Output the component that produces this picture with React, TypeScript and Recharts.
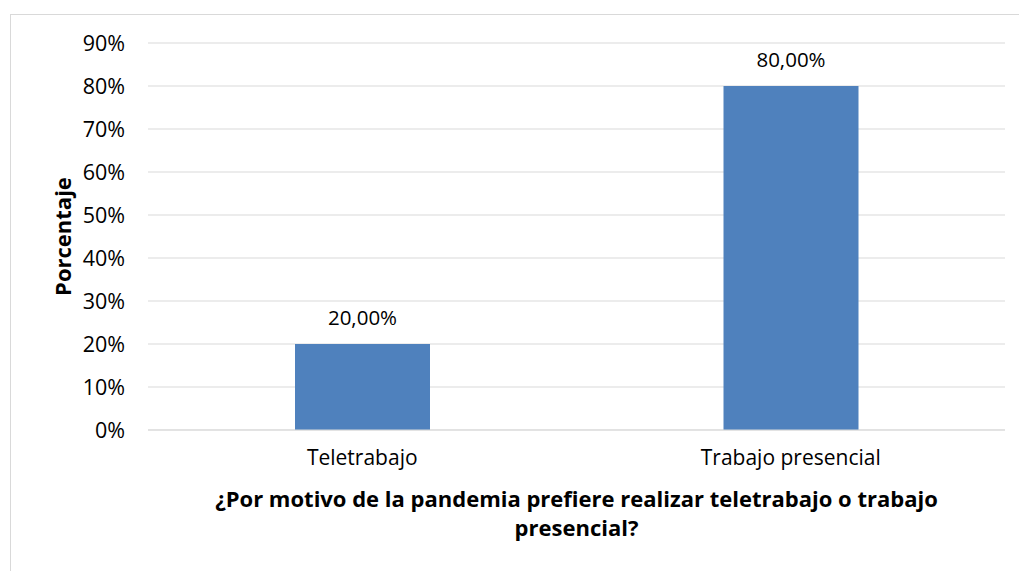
import React from 'react';
import { BarChart, Bar, XAxis, YAxis, CartesianGrid, LabelList } from 'recharts';

const categories = ['Teletrabajo', 'Trabajo presencial'];
const values = [0.2, 0.8];
const yTicks = [0, 0.1, 0.2, 0.3, 0.4, 0.5, 0.6, 0.7, 0.8, 0.9];
const yAxisTitle = 'Porcentaje';
const xAxisTitleLines = [
  '¿Por motivo de la pandemia prefiere realizar teletrabajo o trabajo',
  'presencial?',
];

const data = categories.map((c, i) => ({ name: c, value: values[i] }));

const FONT = '"Open Sans", sans-serif';

const XTitle = (props: any) => {
  const vb = props.viewBox;
  const cx = vb.x + vb.width / 2;
  return (
    <text x={cx} y={vb.y + 76} textAnchor="middle" fontFamily={FONT} fontWeight={700} fontSize={22} fill="#000">
      <tspan x={cx} y={vb.y + 77}>{xAxisTitleLines[0]}</tspan>
      <tspan x={cx} y={vb.y + 106}>{xAxisTitleLines[1]}</tspan>
    </text>
  );
};

const YTitle = (props: any) => {
  const vb = props.viewBox;
  const cy = vb.y + vb.height / 2;
  const x = 62;
  return (
    <text x={x} y={cy} transform={`rotate(-90 ${x} ${cy})`} textAnchor="middle" dominantBaseline="central" fontFamily={FONT} fontWeight={700} fontSize={22} fill="#000">
      {yAxisTitle}
    </text>
  );
};

const fmtPct = (v: number) => `${Math.round(v * 100)}%`;
const fmtLabel = (v: any) => `${(Number(v) * 100).toFixed(2).replace('.', ',')}%`;

export default function App() {
  return (
    <div style={{ position: 'absolute', left: 0, top: 0, width: 1019, height: 571, overflow: 'hidden', background: '#fff' }}>
      <div style={{ position: 'absolute', left: 10, top: 14, width: 1100, height: 700, border: '1px solid #D9D9D9' }} />
      <div style={{ position: 'absolute', left: 0, top: 0 }}>
        <BarChart width={1019} height={571} data={data} margin={{ top: 43, right: 14, bottom: 0, left: 0 }}>
          <CartesianGrid vertical={false} stroke="#D9D9D9" />
          <XAxis
            dataKey="name"
            height={141}
            tickLine={false}
            axisLine={{ stroke: '#D9D9D9' }}
            tickSize={0}
            tickMargin={20}
            tick={{ fill: '#000', fontSize: 21, fontFamily: FONT }}
            label={<XTitle />}
          />
          <YAxis
            width={148}
            domain={[0, 0.9]}
            ticks={yTicks}
            tickFormatter={fmtPct}
            tickLine={false}
            axisLine={false}
            tickSize={0}
            tickMargin={23}
            tick={{ fill: '#000', fontSize: 21.5, fontFamily: FONT }}
            label={<YTitle />}
          />
          <Bar dataKey="value" fill="#4F81BD" barSize={135} isAnimationActive={false}>
            <LabelList dataKey="value" position="top" offset={19} formatter={fmtLabel} fill="#000" fontSize={20.5} fontFamily={FONT} />
          </Bar>
        </BarChart>
      </div>
    </div>
  );
}
